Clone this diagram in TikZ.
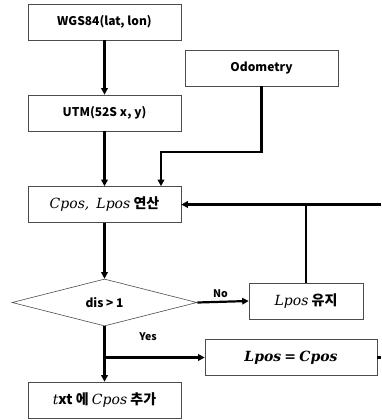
\documentclass[tikz,border=0pt]{standalone}
\usepackage{fontspec}
\newfontfamily\kr{Noto Sans CJK KR}
\newfontfamily\varfont{DejaVu Serif}
\newcommand{\var}[1]{{\varfont\mdseries\itshape #1}}
\newcommand{\varb}[1]{{\varfont\bfseries\itshape #1}}
\usetikzlibrary{arrows.meta, positioning, shapes.geometric}

\begin{document}
\begin{tikzpicture}[
    x=1pt, y=-1pt,
    box/.style={rectangle, draw=black!70, line width=0.6pt, minimum width=153pt, minimum height=36pt, text centered, font=\kr\bfseries\fontsize{12}{14}\selectfont},
    mathbox/.style={box, font=\kr\bfseries\fontsize{14}{16}\selectfont},
    decision/.style={diamond, draw=black!70, line width=0.6pt, aspect=3.9, inner sep=0pt, minimum width=185pt, minimum height=47pt, font=\kr\bfseries\fontsize{12}{14}\selectfont},
    label/.style={font=\kr\bfseries\fontsize{10.5}{12}\selectfont},
    line/.style={line width=2.2pt},
    arrow/.style={line, -{Triangle[length=6.5pt, width=6.5pt]}}
]
\useasboundingbox (0,0) rectangle (381,420);

% Input boxes
\node[box] (wgs) at (104.5,22) {WGS84(lat, lon)};
\node[box] (utm) at (104.5,113) {UTM(52S x, y)};
\node[box] (odom) at (261.5,68) {Odometry};

% Position calculation
\node[mathbox] (calc) at (104.5,204.5) {\var{Cpos,}\; \var{Lpos} 연산};

% Decision and its branches
\node[decision] (dis) at (104.5,302.5) {dis > 1};
\node[mathbox, minimum width=114pt] (keep) at (306,301) {\var{Lpos} 유지};
\node[mathbox, minimum width=172pt] (update) at (291,357.5) {\varb{Lpos} {\varfont\bfseries =} \varb{Cpos}};
\node[mathbox] (save) at (104.5,400) {\var{t}xt 에 \var{Cpos} 추가};

% Helper points
\coordinate (odomturn) at (161,152);
\coordinate (backin) at (381,204.5);
\coordinate (backout) at (381,357.5);
\coordinate (branch) at (dis.south |- update.west);

% Arrows
\draw[arrow] (wgs.south) -- (utm.north);
\draw[arrow] (utm.south) -- (calc.north);
\draw[arrow] (odom.south) |- (odomturn) -- (odomturn |- calc.north);
\draw[arrow] (calc.south) -- (dis.north);
\draw[arrow] (dis.east) -- node[label, above, pos=0.45] {No} (keep.west);
\draw[arrow] (dis.south) -- (save.north);
\draw[arrow] (branch) -- (update.west);
\node[label] (yes) at (148,337) {Yes};

% Feedback loop
\draw[arrow] (backin) -- (calc.east);
\draw[line] (keep.north) -- (keep.north |- calc.east);
\draw[line] (update.east) -- (backout);

\end{tikzpicture}
\end{document}
